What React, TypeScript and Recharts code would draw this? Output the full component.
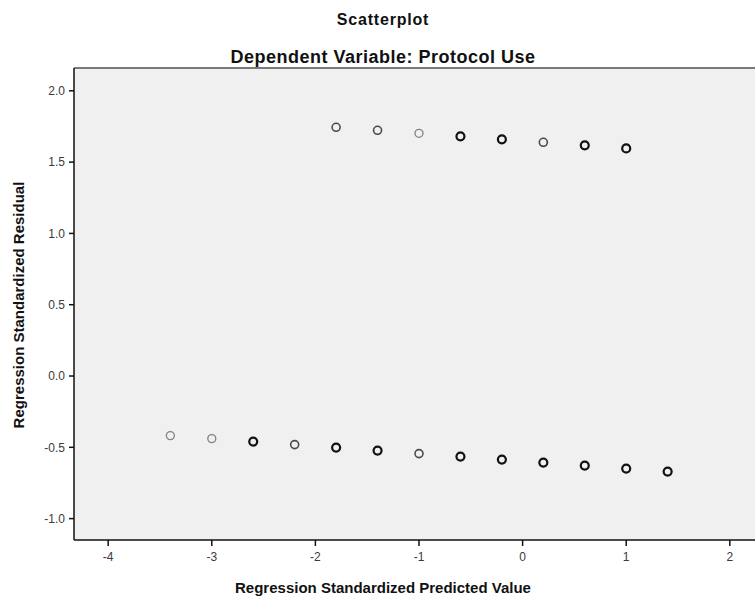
import { ScatterChart, Scatter, XAxis, YAxis, ReferenceArea, ReferenceLine } from 'recharts'

// predicted value (x) / standardized residual (y) / cases stacked on each point
const upperPredicted = [-1.8, -1.4, -1.0, -0.6, -0.2, 0.2, 0.6, 1.0]
const upperResidual = [1.744, 1.723, 1.702, 1.681, 1.66, 1.639, 1.618, 1.596]
const upperCases = [2, 2, 1, 3, 3, 2, 3, 3]

const lowerPredicted = [-3.4, -3.0, -2.6, -2.2, -1.8, -1.4, -1.0, -0.6, -0.2, 0.2, 0.6, 1.0, 1.4]
const lowerResidual = [-0.418, -0.439, -0.46, -0.481, -0.502, -0.523, -0.544, -0.565, -0.586, -0.607, -0.628, -0.649, -0.67]
const lowerCases = [1, 1, 3, 2, 3, 3, 2, 3, 3, 3, 3, 3, 3]

const xTicks = [-4, -3, -2, -1, 0, 1, 2]
const yTicks = [-1.0, -0.5, 0.0, 0.5, 1.0, 1.5, 2.0]

const X_DOMAIN: [number, number] = [-4.33, 2.33]
const Y_DOMAIN: [number, number] = [-1.15, 2.16]

const FONT = '"Liberation Sans", Arial, sans-serif'

const points = [
  ...upperPredicted.map((x, i) => ({ x, y: upperResidual[i], cases: upperCases[i] })),
  ...lowerPredicted.map((x, i) => ({ x, y: lowerResidual[i], cases: lowerCases[i] })),
]

function Ring(props: any) {
  const { cx, cy, payload } = props
  const n = payload?.cases ?? 1
  const stroke = n >= 3 ? '#111' : n === 2 ? '#4a4a4a' : '#808080'
  const width = n >= 3 ? 2.2 : n === 2 ? 1.6 : 1.3
  return <circle cx={cx} cy={cy} r={4} fill="none" stroke={stroke} strokeWidth={width} />
}

const tickStyle = { fill: '#3a3a3a', fontSize: 12, fontFamily: FONT }

const titleBase: React.CSSProperties = {
  position: 'absolute', left: 0, width: 766, textAlign: 'center', fontWeight: 'bold', color: '#111', lineHeight: '20px',
}

export default function App() {
  return (
    <div style={{ position: 'absolute', left: 0, top: 0, width: 755, height: 600, overflow: 'hidden', background: '#fff', fontFamily: FONT }}>
      <div style={{ ...titleBase, top: 10, fontSize: 16, letterSpacing: 0.8 }}>Scatterplot</div>
      <div style={{ ...titleBase, top: 47, fontSize: 18, letterSpacing: 0.5 }}>Dependent Variable: Protocol Use</div>
      <div style={{ ...titleBase, top: 578, fontSize: 15 }}>Regression Standardized Predicted Value</div>
      <div
        style={{
          ...titleBase, left: 19, top: 305, width: 400, marginLeft: -200, marginTop: -10, height: 20,
          fontSize: 15, transform: 'rotate(-90deg)',
        }}
      >
        Regression Standardized Residual
      </div>
      <ScatterChart width={764} height={600} margin={{ top: 68, right: 0, bottom: 0, left: 0 }} style={{ position: 'absolute', left: 0, top: 0 }}>
        <XAxis
          type="number"
          dataKey="x"
          domain={X_DOMAIN}
          ticks={xTicks}
          allowDataOverflow
          height={60}
          tickSize={6}
          tickMargin={6}
          stroke="#111"
          strokeWidth={1.5}
          tick={tickStyle}
        />
        <YAxis
          type="number"
          dataKey="y"
          domain={Y_DOMAIN}
          ticks={yTicks}
          allowDataOverflow
          width={74}
          tickSize={5}
          tickMargin={4}
          stroke="#111"
          strokeWidth={1.5}
          tick={tickStyle}
          tickFormatter={(v: number) => v.toFixed(1)}
        />
        <ReferenceArea x1={X_DOMAIN[0]} x2={X_DOMAIN[1]} y1={Y_DOMAIN[0]} y2={Y_DOMAIN[1]} fill="#f0f0f0" fillOpacity={1} stroke="none" />
        <ReferenceLine y={Y_DOMAIN[1]} stroke="#7a7a7a" strokeWidth={2} />
        <Scatter data={points} shape={Ring} isAnimationActive={false} />
      </ScatterChart>
    </div>
  )
}
